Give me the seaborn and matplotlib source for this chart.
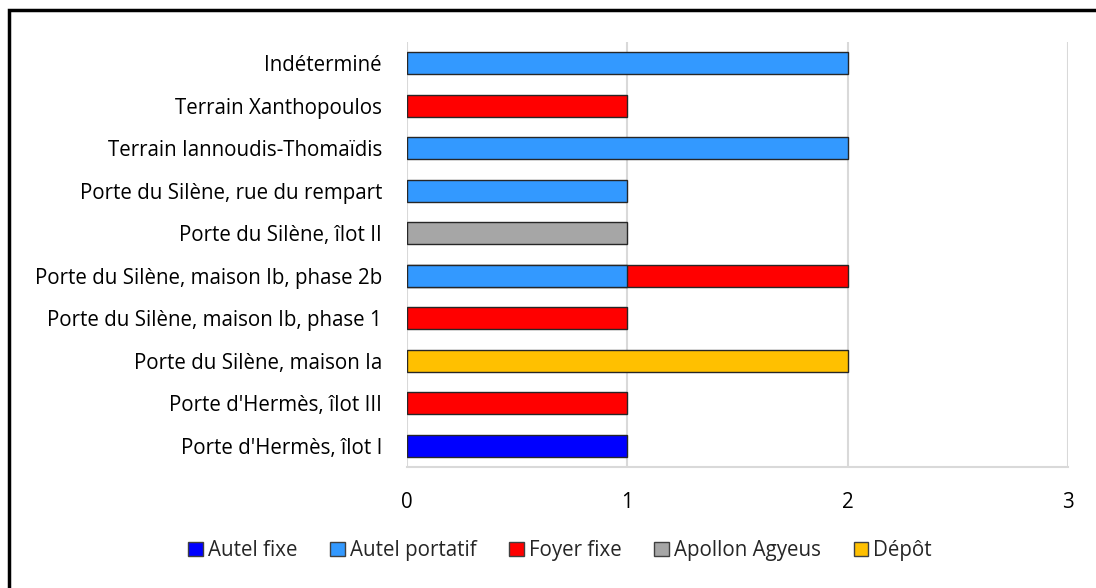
import pandas as pd
import matplotlib.pyplot as plt
import seaborn as sns
from matplotlib.patches import Patch, Rectangle

sites = [
    "Indéterminé",
    "Terrain Xanthopoulos",
    "Terrain Iannoudis-Thomaïdis",
    "Porte du Silène, rue du rempart",
    "Porte du Silène, îlot II",
    "Porte du Silène, maison Ib, phase 2b",
    "Porte du Silène, maison Ib, phase 1",
    "Porte du Silène, maison Ia",
    "Porte d'Hermès, îlot III",
    "Porte d'Hermès, îlot I",
]
autel_fixe = [0, 0, 0, 0, 0, 0, 0, 0, 0, 1]
autel_portatif = [2, 0, 2, 1, 0, 1, 0, 0, 0, 0]
foyer_fixe = [0, 1, 0, 0, 0, 1, 1, 0, 1, 0]
apollon = [0, 0, 0, 0, 1, 0, 0, 0, 0, 0]
depot = [0, 0, 0, 0, 0, 0, 0, 2, 0, 0]

series = ["Autel fixe", "Autel portatif", "Foyer fixe", "Apollon Agyeus", "Dépôt"]
colors = ["#0000FF", "#3399FF", "#FF0000", "#A6A6A6", "#FFC000"]

df = pd.DataFrame({
    "site": sites,
    "Autel fixe": autel_fixe,
    "Autel portatif": autel_portatif,
    "Foyer fixe": foyer_fixe,
    "Apollon Agyeus": apollon,
    "Dépôt": depot,
})

sns.set_style("white")
plt.rcParams['font.family'] = ['Open Sans', 'DejaVu Sans']

fig = plt.figure(figsize=(10.96, 5.88), dpi=100)
ax = fig.add_axes([0.3714, 0.2058, 0.6031, 0.7228])

# stacked bars: draw cumulative totals from the last series back to the first
cum = df[series].cumsum(axis=1)
for name, col in reversed(list(zip(series, colors))):
    sns.barplot(x=cum[name].where(df[name] > 0), y=df["site"], color=col,
                saturation=1, orient="h", width=0.52, edgecolor="#262626",
                linewidth=1, ax=ax, zorder=3)

ax.set_xlim(0, 3)
ax.set_xticks([0, 1, 2, 3])
ax.grid(axis="x", color="#D9D9D9", linewidth=1.5, zorder=0)
ax.set_axisbelow(True)
for s in ["top", "right", "left"]:
    ax.spines[s].set_visible(False)
ax.spines["bottom"].set_color("#D9D9D9")
ax.spines["bottom"].set_linewidth(1.5)
ax.tick_params(axis="both", length=0, labelsize=14.8, colors="#000000")
ax.tick_params(axis="y", pad=18)
ax.tick_params(axis="x", pad=18)
ax.set_xlabel("")
ax.set_ylabel("")

handles = [Patch(facecolor=c, edgecolor="#404040", label=n) for n, c in zip(series, colors)]
fig.legend(handles=handles, loc="center", bbox_to_anchor=(0.511, 0.063), ncol=5,
           frameon=False, fontsize=14.8, handlelength=0.7, handleheight=0.7,
           handletextpad=0.25, columnspacing=1.6)

fig.patches.append(Rectangle((9 / 1096, -0.1), 1.2, 1 - 10 / 588 + 0.1,
                             transform=fig.transFigure, fill=False,
                             edgecolor="black", linewidth=2.5))

fig.savefig("out.png", dpi=100)
